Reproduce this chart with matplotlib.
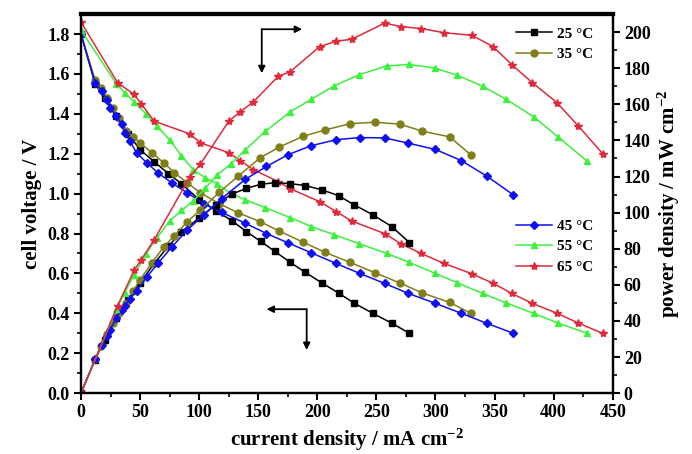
import matplotlib
matplotlib.use('Agg')
import matplotlib.pyplot as plt

plt.rcParams['font.family'] = ['Liberation Serif', 'DejaVu Serif']
plt.rcParams['font.weight'] = 'bold'
plt.rcParams['mathtext.fontset'] = 'custom'
plt.rcParams['mathtext.rm'] = 'Liberation Serif:bold'
plt.rcParams['mathtext.default'] = 'rm'

# current density (mA cm-2), cell voltage (V), power density (mW cm-2)
i25 = [0, 12, 20, 30, 40, 50, 62, 74, 85, 100, 114, 127.5, 140, 152, 164, 177, 190, 204, 218, 231, 247, 263, 278]
v25 = [1.80, 1.55, 1.48, 1.39, 1.30, 1.22, 1.16, 1.10, 1.05, 0.97, 0.915, 0.865, 0.81, 0.761, 0.711, 0.656, 0.605,
       0.552, 0.502, 0.452, 0.40, 0.351, 0.30]
p25 = [0, 18.6, 29.6, 41.7, 52, 61, 71.9, 81.4, 89.3, 97, 104.3, 110.3, 113.4, 115.7, 116.6, 116.1, 115, 112.6,
       109.4, 104.4, 98.8, 92.3, 83.4]

i35 = [0, 12, 17, 22, 27, 32, 38, 44, 50, 60, 70, 79, 90, 101, 117, 133, 151.5, 168, 188, 206.5, 228, 249, 270,
       289, 312, 330]
v35 = [1.80, 1.57, 1.53, 1.48, 1.43, 1.38, 1.315, 1.285, 1.255, 1.205, 1.155, 1.105, 1.055, 1.004, 0.95, 0.904,
       0.86, 0.812, 0.757, 0.706, 0.655, 0.603, 0.552, 0.502, 0.455, 0.40]
p35 = [0, 18.8, 26, 32.6, 38.6, 44.2, 50, 56.5, 62.8, 72.3, 80.9, 87.3, 95, 101.4, 111.2, 120.2, 130.3, 136.4,
       142.3, 145.8, 149.3, 150.1, 149, 145.1, 142, 132]

i45 = [0, 12, 17.5, 21.7, 24.5, 30, 34.4, 37.2, 41.5, 47, 55.6, 65.2, 76.8, 90, 104, 119, 139, 157, 175.5, 195,
       216, 236, 257, 277, 300, 322, 343.5, 366]
v45 = [1.80, 1.556, 1.514, 1.47, 1.43, 1.39, 1.347, 1.305, 1.263, 1.205, 1.155, 1.104, 1.054, 1.004, 0.95, 0.906,
       0.852, 0.80, 0.753, 0.703, 0.65, 0.60, 0.55, 0.50, 0.45, 0.40, 0.35, 0.30]
p45 = [0, 18.7, 26.5, 31.9, 35.0, 41.7, 46.3, 48.5, 52.4, 56.6, 64.2, 72.0, 80.9, 90.4, 98.8, 107.8, 118.4, 125.6,
       132.2, 137.1, 140.4, 141.6, 141.4, 138.5, 135, 128.8, 120.2, 109.8]

i55 = [0, 30, 37, 45, 55, 64, 75, 85, 95, 105, 115, 127, 139, 156, 177, 195, 214, 235, 259, 278, 300, 318.5, 340,
       360, 383, 404, 428.5]
v55 = [1.82, 1.55, 1.506, 1.46, 1.40, 1.34, 1.27, 1.19, 1.12, 1.08, 1.05, 1.00, 0.97, 0.93, 0.88, 0.835, 0.795,
       0.75, 0.70, 0.655, 0.60, 0.553, 0.50, 0.452, 0.40, 0.351, 0.30]
p55 = [0, 46.5, 55.7, 65.7, 77, 85.8, 95.3, 101.2, 106.4, 113.4, 120.8, 127, 134.8, 145, 155.8, 162.8, 170.1,
       176.3, 181.3, 182.1, 180, 176.1, 170, 162.7, 153.2, 141.8, 128.5]

i65 = [0, 31, 45, 51, 62, 92, 101, 125, 135, 146, 167, 177, 202, 216, 229, 257, 271, 288, 307, 331, 349, 364.5,
       382, 403, 421, 441.5]
v65 = [1.86, 1.556, 1.497, 1.45, 1.363, 1.30, 1.255, 1.205, 1.165, 1.12, 1.06, 1.025, 0.96, 0.91, 0.863, 0.80,
       0.748, 0.70, 0.651, 0.598, 0.55, 0.50, 0.45, 0.40, 0.351, 0.30]
p65 = [0, 48.5, 68, 74, 85, 119.6, 126.8, 150.6, 156, 161.4, 175.6, 178, 192, 195, 196, 205, 203, 202, 199.7,
       198.2, 191.9, 182, 172, 160.8, 147.9, 132.7]

series = [
    ('25 °C', i25, v25, p25, '#000000', 's', 4.5),
    ('35 °C', i35, v35, p35, '#7f7f1a', 'o', 5),
    ('45 °C', i45, v45, p45, '#1010ee', 'D', 4.5),
    ('55 °C', i55, v55, p55, '#3cf03c', '^', 5),
    ('65 °C', i65, v65, p65, '#e02a3c', '*', 6),
]

fig = plt.figure(figsize=(6.92, 4.54), dpi=100)
ax = fig.add_axes([0.117, 0.134, 0.7684, 0.835])
ax2 = ax.twinx()

handles = []
for lab, i, v, p, c, m, ms in series:
    h, = ax.plot(i, v, color=c, marker=m, ms=ms, lw=1.1, label=lab)
    ax2.plot(i, p, color=c, marker=m, ms=ms, lw=1.1)
    handles.append(h)

ax.set_xlim(0, 450)
ax.set_ylim(0, 1.9)
ax2.set_ylim(0, 210)
ax.set_xticks(range(0, 451, 50))
ax.set_xticks(range(25, 450, 50), minor=True)
ax.set_yticks([0, 0.2, 0.4, 0.6, 0.8, 1.0, 1.2, 1.4, 1.6, 1.8])
ax.set_yticks([0.1, 0.3, 0.5, 0.7, 0.9, 1.1, 1.3, 1.5, 1.7], minor=True)
ax.set_yticklabels(['0.0', '0.2', '0.4', '0.6', '0.8', '1.0', '1.2', '1.4', '1.6', '1.8'])
ax2.set_yticks(range(0, 201, 20))
ax2.set_yticks(range(10, 210, 20), minor=True)

for a in (ax, ax2):
    a.tick_params(which='major', length=5, width=1.5, labelsize=13, direction='out', pad=3)
    a.tick_params(which='minor', length=3, width=1.2, direction='out')
    for s in a.spines.values():
        s.set_linewidth(1.6)
    a.spines['top'].set_linewidth(3)
    for t in a.get_xticklabels() + a.get_yticklabels():
        t.set_fontweight('bold')

ax.set_xlabel('current density / mA cm$^{-2}$', fontsize=15, fontweight='bold', labelpad=4)
ax.set_ylabel('cell voltage / V', fontsize=15, fontweight='bold', labelpad=4)
ax2.set_ylabel('power density / mW cm$^{-2}$', fontsize=15, fontweight='bold', labelpad=4)

leg1 = ax2.legend(handles[:2], [s[0] for s in series[:2]], loc='upper left', bbox_to_anchor=(0.8, 0.99),
                  frameon=False, fontsize=11, handlelength=2.4, handletextpad=0.3, labelspacing=0.45,
                  borderaxespad=0.2)
ax2.add_artist(leg1)
ax2.legend(handles[2:], [s[0] for s in series[2:]], loc='upper left', bbox_to_anchor=(0.8, 0.483),
           frameon=False, fontsize=11, handlelength=2.4, handletextpad=0.3, labelspacing=0.45,
           borderaxespad=0.2)

# direction arrows
ap = dict(arrowstyle='-|>', color='black', lw=1.3, mutation_scale=10, shrinkA=0, shrinkB=0)
ax2.annotate('', xy=(0.416, 0.960), xytext=(0.340, 0.960), xycoords='axes fraction', arrowprops=ap)
ax2.annotate('', xy=(0.340, 0.844), xytext=(0.340, 0.960), xycoords='axes fraction', arrowprops=ap)
ax2.annotate('', xy=(0.349, 0.2215), xytext=(0.4245, 0.2215), xycoords='axes fraction', arrowprops=ap)
ax2.annotate('', xy=(0.4245, 0.114), xytext=(0.4245, 0.2215), xycoords='axes fraction', arrowprops=ap)

fig.savefig('out.png', dpi=100)
